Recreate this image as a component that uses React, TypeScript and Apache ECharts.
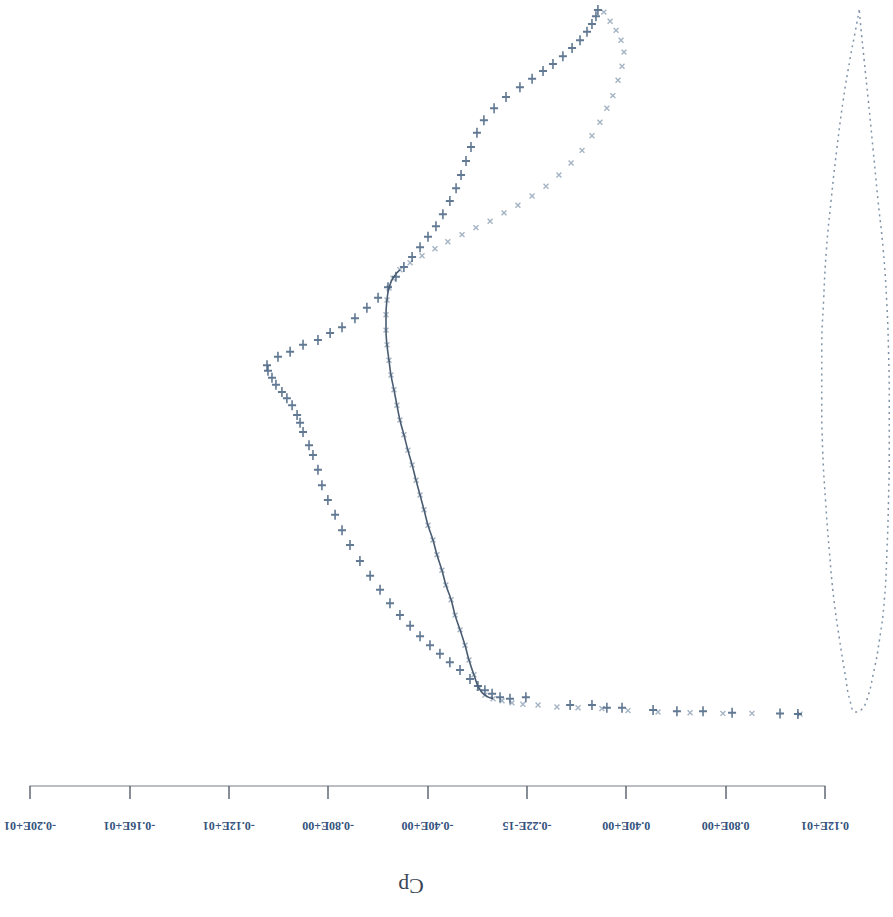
import React, { useEffect, useRef } from "react";
import * as echarts from "echarts";

// Cp axis ticks (value, label as printed)
const tickValues = [-2.0, -1.6, -1.2, -0.8, -0.4, 0.0, 0.4, 0.8, 1.2];
const tickLabels = ["-0.20E+01", "-0.16E+01", "-0.12E+01", "-0.80E+00", "-0.40E+00", "-0.22E-15", "0.40E+00", "0.80E+00", "0.12E+01"];

// Series "+" : Cp and chord position
const plusCp = [1.091, 1.019, 0.826, 0.709, 0.604, 0.508, 0.383, 0.322, 0.262, 0.174, -0.004, -0.068, -0.108, -0.14, -0.169, -0.197,
  -0.229, -0.269, -0.31, -0.35, -0.39, -0.43, -0.47, -0.511, -0.551, -0.591, -0.631, -0.672, -0.712, -0.744, -0.772, -0.801, -0.825, -0.841, -0.861, -0.877, -0.901, -0.913, -0.925, -0.945, -0.966, -0.986, -1.01, -1.026, -1.042, -1.046,
  -1.002, -0.953, -0.901, -0.841, -0.792, -0.744, -0.692, -0.644, -0.599, -0.559, -0.527, -0.495, -0.462, -0.43, -0.398, -0.366, -0.338, -0.31, -0.285, -0.265, -0.245, -0.225, -0.201, -0.173, -0.132, -0.084, -0.028, 0.021, 0.065, 0.105, 0.145, 0.182, 0.214, 0.242, 0.262, 0.278, 0.286];
const plusXc = [-0.003, -0.002, -0.001, 0.001, 0.001, 0.003, 0.006, 0.006, 0.01, 0.01, 0.021, 0.019, 0.021, 0.026, 0.031, 0.037,
  0.047, 0.06, 0.071, 0.083, 0.095, 0.108, 0.123, 0.138, 0.155, 0.174, 0.194, 0.215, 0.238, 0.259, 0.281, 0.302, 0.323, 0.345, 0.366, 0.38, 0.399, 0.412, 0.423, 0.437, 0.447, 0.456, 0.466, 0.476, 0.486, 0.494,
  0.506, 0.513, 0.523, 0.53, 0.54, 0.548, 0.561, 0.576, 0.59, 0.605, 0.62, 0.634, 0.648, 0.662, 0.677, 0.692, 0.709, 0.728, 0.746, 0.765, 0.785, 0.805, 0.825, 0.843, 0.86, 0.876, 0.89, 0.902, 0.913, 0.923, 0.934, 0.946, 0.957, 0.969, 0.98, 0.991, 1.0];

// Series "x" : Cp and chord position
const crossCp = [1.099, 0.906, 0.789, 0.657, 0.528, 0.407, 0.302, 0.206, 0.121, 0.045, -0.016, -0.06, -0.1, -0.136, -0.169, -0.193,
  -0.213, -0.233, -0.249, -0.269, -0.289, -0.305, -0.326, -0.342, -0.362, -0.378, -0.398, -0.414, -0.43, -0.446, -0.462, -0.479, -0.495, -0.511, -0.523, -0.535, -0.547, -0.555, -0.563, -0.567, -0.567, -0.563, -0.555, -0.539,
  -0.511, -0.47, -0.422, -0.37, -0.318, -0.261, -0.205, -0.148, -0.092, -0.036, 0.021, 0.077, 0.129, 0.178, 0.222, 0.262, 0.294, 0.322, 0.346, 0.367, 0.383, 0.391, 0.379, 0.359, 0.335, 0.31];
const crossXc = [-0.003, -0.002, -0.002, -0.001, 0.0, 0.002, 0.005, 0.006, 0.007, 0.01, 0.011, 0.013, 0.016, 0.019, 0.024, 0.034,
  0.053, 0.074, 0.095, 0.117, 0.138, 0.16, 0.181, 0.202, 0.224, 0.245, 0.266, 0.288, 0.309, 0.33, 0.352, 0.373, 0.395, 0.416, 0.437, 0.459, 0.48, 0.501, 0.523, 0.544, 0.566, 0.587, 0.604, 0.618,
  0.63, 0.64, 0.65, 0.66, 0.67, 0.68, 0.69, 0.699, 0.711, 0.722, 0.735, 0.749, 0.765, 0.782, 0.8, 0.821, 0.84, 0.86, 0.878, 0.9, 0.92, 0.94, 0.957, 0.971, 0.984, 0.997];

// Airfoil outline: half-thickness coordinate and chord position
const airfoilT = [0.05, 0.0, -0.075, -0.163, -0.25, -0.325, -0.388, -0.425, -0.45, -0.45, -0.4375, -0.4, -0.35, -0.2875, -0.2125, -0.1375, -0.075, 0.0,
  0.075, 0.15, 0.235, 0.32, 0.385, 0.42, 0.44, 0.45, 0.45, 0.44, 0.415, 0.37, 0.3, 0.235, 0.17, 0.115, 0.075, 0.05];
const airfoilXc = [1.0, 0.971, 0.929, 0.872, 0.801, 0.729, 0.658, 0.587, 0.516, 0.444, 0.373, 0.302, 0.231, 0.16, 0.103, 0.053, 0.017, 0.0,
  0.003, 0.017, 0.053, 0.103, 0.16, 0.231, 0.302, 0.373, 0.444, 0.516, 0.587, 0.658, 0.729, 0.801, 0.872, 0.929, 0.971, 1.0];

const zip = (a: number[], b: number[]) => a.map((v, i) => [v, b[i]]);

const PLUS = "path://M4,0h2v10h-2z M0,4h10v2h-10z";

export default function App() {
  const ref = useRef<HTMLDivElement>(null);
  useEffect(() => {
    if (!ref.current) return;
    const chart = echarts.init(ref.current, null, { renderer: "svg" });
    const crossData = zip(crossCp, crossXc);
    chart.setOption({
      animation: false,
      backgroundColor: "#ffffff",
      grid: [
        { left: 30, right: 68, top: 10, bottom: 205, containLabel: false },
        { left: 818, width: 80, top: 10, bottom: 205, containLabel: false },
      ],
      xAxis: [
        {
          type: "value",
          gridIndex: 0,
          min: -2.0,
          max: 1.2,
          interval: 0.4,
          offset: 74,
          axisLine: { show: true, onZero: false, lineStyle: { color: "#a3a9b0", width: 1.5 } },
          axisTick: { show: true, length: 13, lineStyle: { color: "#5f6975", width: 1.5 } },
          splitLine: { show: false },
          axisLabel: {
            rotate: 180,
            margin: 34,
            fontFamily: "Liberation Serif",
            fontWeight: "bold",
            fontSize: 12,
            color: "#35537d",
            formatter: (v: number) => {
              const i = tickValues.findIndex((t) => Math.abs(t - v) < 1e-6);
              return i >= 0 ? tickLabels[i] : "";
            },
          },
        },
        { type: "value", gridIndex: 1, min: -0.5, max: 0.5, show: false },
      ],
      yAxis: [
        { type: "value", gridIndex: 0, min: 0, max: 1, show: false },
        { type: "value", gridIndex: 1, min: 0, max: 1, show: false },
      ],
      graphic: [
        {
          type: "text",
          x: 411,
          y: 886,
          rotation: Math.PI,
          style: {
            text: "Cp",
            fontFamily: "Liberation Serif",
            fontSize: 22,
            fill: "#3a4656",
            align: "center",
            verticalAlign: "middle",
          },
        },
      ],
      series: [
        {
          name: "airfoil",
          type: "line",
          xAxisIndex: 1,
          yAxisIndex: 1,
          data: zip(airfoilT, airfoilXc),
          smooth: true,
          symbol: "none",
          clip: false,
          lineStyle: { color: "#7f93a8", width: 1.5, type: [2, 4] },
        },
        {
          name: "x-path",
          type: "line",
          data: crossData.slice(13, 45),
          smooth: true,
          symbol: "none",
          clip: false,
          lineStyle: { color: "#4a5c72", width: 1.6 },
        },
        {
          name: "x",
          type: "scatter",
          data: crossData,
          symbol: PLUS,
          symbolRotate: 45,
          symbolSize: 7,
          clip: false,
          itemStyle: { color: "#8fa1b5" },
        },
        {
          name: "+",
          type: "scatter",
          data: zip(plusCp, plusXc),
          symbol: PLUS,
          symbolSize: [8, 10],
          clip: false,
          itemStyle: { color: "#3b5878" },
        },
      ],
    });
    return () => chart.dispose();
  }, []);
  return (
    <div
      ref={ref}
      style={{ position: "absolute", left: 0, top: 0, width: 893, height: 917, background: "#fff" }}
    />
  );
}
